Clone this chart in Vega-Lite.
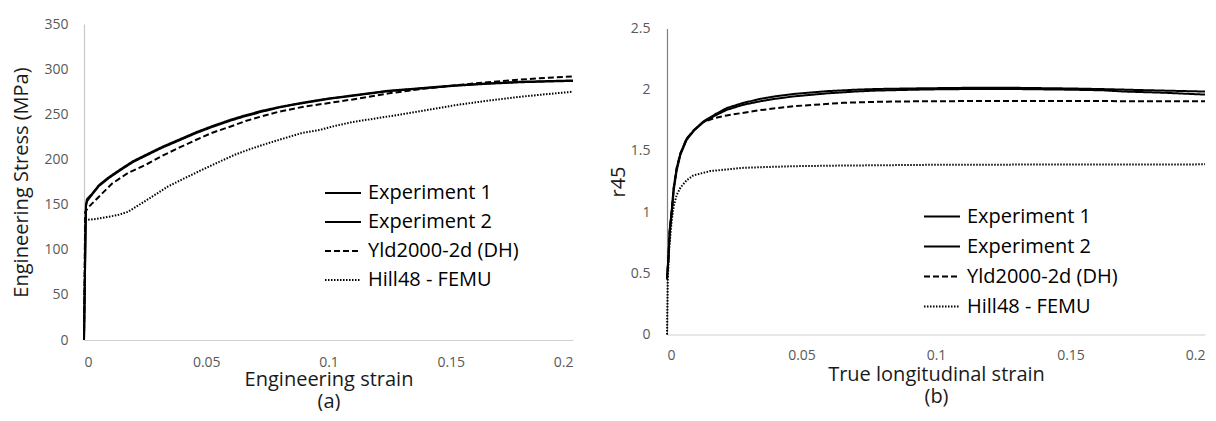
{
  "$schema": "https://vega.github.io/schema/vega-lite/v6.json",
  "background": "white",
  "padding": {"left": 11, "top": 17, "right": 0, "bottom": 0},
  "center": true,
  "spacing": 31,
  "config": {
    "view": {"stroke": null},
    "font": "Open Sans",
    "axis": {"grid": false, "ticks": false, "labelColor": "#595959", "labelFontSize": 14, "titleColor": "#1a1a1a", "titleFontSize": 20, "titleFontWeight": "normal", "domainColor": "#d0d0d0", "domainWidth": 1.2},
    "legend": {"symbolType": "stroke", "symbolSize": 1296, "symbolStrokeWidth": 2, "symbolStrokeColor": "black", "labelFontSize": 20, "labelColor": "#000000", "labelOffset": 6, "padding": 0, "rowPadding": 0, "labelLimit": 400}
  },
  "datasets": {
    "stress": [
      {"series": "Experiment 1", "x": 0, "y": 0}, {"series": "Experiment 1", "x": 0.0008, "y": 150}, {"series": "Experiment 1", "x": 0.0012, "y": 156}, {"series": "Experiment 1", "x": 0.003, "y": 161}, {"series": "Experiment 1", "x": 0.0061, "y": 171.5}, {"series": "Experiment 1", "x": 0.01, "y": 180}, {"series": "Experiment 1", "x": 0.0143, "y": 188}, {"series": "Experiment 1", "x": 0.02, "y": 198}, {"series": "Experiment 1", "x": 0.0252, "y": 205}, {"series": "Experiment 1", "x": 0.032, "y": 214}, {"series": "Experiment 1", "x": 0.0389, "y": 222}, {"series": "Experiment 1", "x": 0.0457, "y": 230}, {"series": "Experiment 1", "x": 0.0525, "y": 237}, {"series": "Experiment 1", "x": 0.06, "y": 244}, {"series": "Experiment 1", "x": 0.0661, "y": 249}, {"series": "Experiment 1", "x": 0.073, "y": 254}, {"series": "Experiment 1", "x": 0.0798, "y": 258}, {"series": "Experiment 1", "x": 0.0866, "y": 261.5}, {"series": "Experiment 1", "x": 0.0934, "y": 264.7}, {"series": "Experiment 1", "x": 0.1, "y": 267.5}, {"series": "Experiment 1", "x": 0.11, "y": 271}, {"series": "Experiment 1", "x": 0.1242, "y": 276}, {"series": "Experiment 1", "x": 0.1378, "y": 279}, {"series": "Experiment 1", "x": 0.1515, "y": 282}, {"series": "Experiment 1", "x": 0.165, "y": 284.2}, {"series": "Experiment 1", "x": 0.1787, "y": 286}, {"series": "Experiment 1", "x": 0.19, "y": 286.8}, {"series": "Experiment 1", "x": 0.2, "y": 287.5},
      {"series": "Experiment 2", "x": 0, "y": 0}, {"series": "Experiment 2", "x": 0.0008, "y": 148}, {"series": "Experiment 2", "x": 0.0013, "y": 154}, {"series": "Experiment 2", "x": 0.003, "y": 160}, {"series": "Experiment 2", "x": 0.0061, "y": 170.5}, {"series": "Experiment 2", "x": 0.01, "y": 179}, {"series": "Experiment 2", "x": 0.0143, "y": 187}, {"series": "Experiment 2", "x": 0.02, "y": 197}, {"series": "Experiment 2", "x": 0.0252, "y": 204}, {"series": "Experiment 2", "x": 0.032, "y": 213}, {"series": "Experiment 2", "x": 0.0389, "y": 221}, {"series": "Experiment 2", "x": 0.0457, "y": 229}, {"series": "Experiment 2", "x": 0.0525, "y": 236}, {"series": "Experiment 2", "x": 0.06, "y": 243}, {"series": "Experiment 2", "x": 0.0661, "y": 248}, {"series": "Experiment 2", "x": 0.073, "y": 253}, {"series": "Experiment 2", "x": 0.0798, "y": 257.5}, {"series": "Experiment 2", "x": 0.0866, "y": 261}, {"series": "Experiment 2", "x": 0.0934, "y": 264}, {"series": "Experiment 2", "x": 0.1, "y": 267}, {"series": "Experiment 2", "x": 0.11, "y": 270.5}, {"series": "Experiment 2", "x": 0.1242, "y": 275.5}, {"series": "Experiment 2", "x": 0.1378, "y": 278.5}, {"series": "Experiment 2", "x": 0.1515, "y": 281.5}, {"series": "Experiment 2", "x": 0.165, "y": 283.8}, {"series": "Experiment 2", "x": 0.1787, "y": 285.5}, {"series": "Experiment 2", "x": 0.19, "y": 286.3}, {"series": "Experiment 2", "x": 0.2, "y": 287},
      {"series": "Yld2000-2d (DH)", "x": 0, "y": 0}, {"series": "Yld2000-2d (DH)", "x": 0.0005, "y": 142}, {"series": "Yld2000-2d (DH)", "x": 0.002, "y": 147.6}, {"series": "Yld2000-2d (DH)", "x": 0.0061, "y": 158.7}, {"series": "Yld2000-2d (DH)", "x": 0.0116, "y": 173.5}, {"series": "Yld2000-2d (DH)", "x": 0.018, "y": 185}, {"series": "Yld2000-2d (DH)", "x": 0.0252, "y": 194}, {"series": "Yld2000-2d (DH)", "x": 0.032, "y": 204}, {"series": "Yld2000-2d (DH)", "x": 0.0389, "y": 213}, {"series": "Yld2000-2d (DH)", "x": 0.0457, "y": 221.5}, {"series": "Yld2000-2d (DH)", "x": 0.0525, "y": 229.6}, {"series": "Yld2000-2d (DH)", "x": 0.06, "y": 236.5}, {"series": "Yld2000-2d (DH)", "x": 0.0661, "y": 242.5}, {"series": "Yld2000-2d (DH)", "x": 0.073, "y": 248}, {"series": "Yld2000-2d (DH)", "x": 0.0798, "y": 252.9}, {"series": "Yld2000-2d (DH)", "x": 0.09, "y": 258.5}, {"series": "Yld2000-2d (DH)", "x": 0.1002, "y": 262.5}, {"series": "Yld2000-2d (DH)", "x": 0.11, "y": 266.5}, {"series": "Yld2000-2d (DH)", "x": 0.1242, "y": 273}, {"series": "Yld2000-2d (DH)", "x": 0.1378, "y": 278}, {"series": "Yld2000-2d (DH)", "x": 0.1515, "y": 282}, {"series": "Yld2000-2d (DH)", "x": 0.165, "y": 285.5}, {"series": "Yld2000-2d (DH)", "x": 0.1787, "y": 288.5}, {"series": "Yld2000-2d (DH)", "x": 0.19, "y": 290.5}, {"series": "Yld2000-2d (DH)", "x": 0.2, "y": 292},
      {"series": "Hill48 - FEMU", "x": 0, "y": 0}, {"series": "Hill48 - FEMU", "x": 0.0005, "y": 133}, {"series": "Hill48 - FEMU", "x": 0.005, "y": 134}, {"series": "Hill48 - FEMU", "x": 0.0138, "y": 138.4}, {"series": "Hill48 - FEMU", "x": 0.018, "y": 142}, {"series": "Hill48 - FEMU", "x": 0.0233, "y": 151}, {"series": "Hill48 - FEMU", "x": 0.028, "y": 159}, {"series": "Hill48 - FEMU", "x": 0.0342, "y": 169.8}, {"series": "Hill48 - FEMU", "x": 0.041, "y": 179}, {"series": "Hill48 - FEMU", "x": 0.0479, "y": 188}, {"series": "Hill48 - FEMU", "x": 0.055, "y": 197}, {"series": "Hill48 - FEMU", "x": 0.0615, "y": 205}, {"series": "Hill48 - FEMU", "x": 0.068, "y": 211.5}, {"series": "Hill48 - FEMU", "x": 0.0751, "y": 217.8}, {"series": "Hill48 - FEMU", "x": 0.082, "y": 223.5}, {"series": "Hill48 - FEMU", "x": 0.0888, "y": 229}, {"series": "Hill48 - FEMU", "x": 0.0969, "y": 233}, {"series": "Hill48 - FEMU", "x": 0.1024, "y": 237}, {"series": "Hill48 - FEMU", "x": 0.11, "y": 241.5}, {"series": "Hill48 - FEMU", "x": 0.1242, "y": 247.5}, {"series": "Hill48 - FEMU", "x": 0.1378, "y": 253.5}, {"series": "Hill48 - FEMU", "x": 0.1515, "y": 260}, {"series": "Hill48 - FEMU", "x": 0.165, "y": 265}, {"series": "Hill48 - FEMU", "x": 0.1787, "y": 269.5}, {"series": "Hill48 - FEMU", "x": 0.19, "y": 272.5}, {"series": "Hill48 - FEMU", "x": 0.2, "y": 275}
    ],
    "r45": [
      {"series": "Experiment 1", "x": 0, "y": 0.45}, {"series": "Experiment 1", "x": 0.0005, "y": 0.62}, {"series": "Experiment 1", "x": 0.001, "y": 0.85}, {"series": "Experiment 1", "x": 0.0017, "y": 1.0}, {"series": "Experiment 1", "x": 0.0025, "y": 1.2}, {"series": "Experiment 1", "x": 0.0036, "y": 1.36}, {"series": "Experiment 1", "x": 0.005, "y": 1.48}, {"series": "Experiment 1", "x": 0.0073, "y": 1.6}, {"series": "Experiment 1", "x": 0.01, "y": 1.67}, {"series": "Experiment 1", "x": 0.0135, "y": 1.74}, {"series": "Experiment 1", "x": 0.018, "y": 1.8}, {"series": "Experiment 1", "x": 0.0222, "y": 1.85}, {"series": "Experiment 1", "x": 0.028, "y": 1.89}, {"series": "Experiment 1", "x": 0.0346, "y": 1.925}, {"series": "Experiment 1", "x": 0.04, "y": 1.945}, {"series": "Experiment 1", "x": 0.047, "y": 1.965}, {"series": "Experiment 1", "x": 0.0594, "y": 1.988}, {"series": "Experiment 1", "x": 0.07, "y": 2.0}, {"series": "Experiment 1", "x": 0.078, "y": 2.006}, {"series": "Experiment 1", "x": 0.0965, "y": 2.012}, {"series": "Experiment 1", "x": 0.11, "y": 2.015}, {"series": "Experiment 1", "x": 0.131, "y": 2.015}, {"series": "Experiment 1", "x": 0.15, "y": 2.01}, {"series": "Experiment 1", "x": 0.162, "y": 2.005}, {"series": "Experiment 1", "x": 0.18, "y": 1.995}, {"series": "Experiment 1", "x": 0.2, "y": 1.985},
      {"series": "Experiment 2", "x": 0, "y": 0.47}, {"series": "Experiment 2", "x": 0.0005, "y": 0.6}, {"series": "Experiment 2", "x": 0.001, "y": 0.83}, {"series": "Experiment 2", "x": 0.0017, "y": 0.98}, {"series": "Experiment 2", "x": 0.0025, "y": 1.18}, {"series": "Experiment 2", "x": 0.0036, "y": 1.34}, {"series": "Experiment 2", "x": 0.005, "y": 1.47}, {"series": "Experiment 2", "x": 0.0073, "y": 1.59}, {"series": "Experiment 2", "x": 0.01, "y": 1.665}, {"series": "Experiment 2", "x": 0.0135, "y": 1.735}, {"series": "Experiment 2", "x": 0.018, "y": 1.79}, {"series": "Experiment 2", "x": 0.0222, "y": 1.835}, {"series": "Experiment 2", "x": 0.028, "y": 1.875}, {"series": "Experiment 2", "x": 0.0346, "y": 1.905}, {"series": "Experiment 2", "x": 0.04, "y": 1.925}, {"series": "Experiment 2", "x": 0.047, "y": 1.945}, {"series": "Experiment 2", "x": 0.0594, "y": 1.97}, {"series": "Experiment 2", "x": 0.07, "y": 1.985}, {"series": "Experiment 2", "x": 0.078, "y": 1.993}, {"series": "Experiment 2", "x": 0.0965, "y": 2.002}, {"series": "Experiment 2", "x": 0.11, "y": 2.005}, {"series": "Experiment 2", "x": 0.131, "y": 2.005}, {"series": "Experiment 2", "x": 0.15, "y": 2.0}, {"series": "Experiment 2", "x": 0.162, "y": 1.995}, {"series": "Experiment 2", "x": 0.17, "y": 1.985}, {"series": "Experiment 2", "x": 0.185, "y": 1.975}, {"series": "Experiment 2", "x": 0.2, "y": 1.96},
      {"series": "Yld2000-2d (DH)", "x": 0, "y": 0.45}, {"series": "Yld2000-2d (DH)", "x": 0.0005, "y": 0.62}, {"series": "Yld2000-2d (DH)", "x": 0.001, "y": 0.85}, {"series": "Yld2000-2d (DH)", "x": 0.0017, "y": 1.0}, {"series": "Yld2000-2d (DH)", "x": 0.0025, "y": 1.2}, {"series": "Yld2000-2d (DH)", "x": 0.0036, "y": 1.36}, {"series": "Yld2000-2d (DH)", "x": 0.005, "y": 1.48}, {"series": "Yld2000-2d (DH)", "x": 0.0073, "y": 1.6}, {"series": "Yld2000-2d (DH)", "x": 0.01, "y": 1.67}, {"series": "Yld2000-2d (DH)", "x": 0.0135, "y": 1.735}, {"series": "Yld2000-2d (DH)", "x": 0.018, "y": 1.77}, {"series": "Yld2000-2d (DH)", "x": 0.0222, "y": 1.79}, {"series": "Yld2000-2d (DH)", "x": 0.0346, "y": 1.833}, {"series": "Yld2000-2d (DH)", "x": 0.047, "y": 1.865}, {"series": "Yld2000-2d (DH)", "x": 0.0655, "y": 1.893}, {"series": "Yld2000-2d (DH)", "x": 0.08, "y": 1.902}, {"series": "Yld2000-2d (DH)", "x": 0.0965, "y": 1.906}, {"series": "Yld2000-2d (DH)", "x": 0.13, "y": 1.908}, {"series": "Yld2000-2d (DH)", "x": 0.16, "y": 1.907}, {"series": "Yld2000-2d (DH)", "x": 0.2, "y": 1.905},
      {"series": "Hill48 - FEMU", "x": 0, "y": 0}, {"series": "Hill48 - FEMU", "x": 0.0003, "y": 0.45}, {"series": "Hill48 - FEMU", "x": 0.0008, "y": 0.7}, {"series": "Hill48 - FEMU", "x": 0.0017, "y": 0.92}, {"series": "Hill48 - FEMU", "x": 0.0025, "y": 1.05}, {"series": "Hill48 - FEMU", "x": 0.0036, "y": 1.14}, {"series": "Hill48 - FEMU", "x": 0.005, "y": 1.2}, {"series": "Hill48 - FEMU", "x": 0.0073, "y": 1.26}, {"series": "Hill48 - FEMU", "x": 0.0098, "y": 1.3}, {"series": "Hill48 - FEMU", "x": 0.016, "y": 1.335}, {"series": "Hill48 - FEMU", "x": 0.0284, "y": 1.362}, {"series": "Hill48 - FEMU", "x": 0.047, "y": 1.375}, {"series": "Hill48 - FEMU", "x": 0.064, "y": 1.38}, {"series": "Hill48 - FEMU", "x": 0.0965, "y": 1.386}, {"series": "Hill48 - FEMU", "x": 0.13, "y": 1.388}, {"series": "Hill48 - FEMU", "x": 0.2, "y": 1.39}
    ]
  },
  "hconcat": [
    {
      "width": 489,
      "height": 316,
      "data": {"name": "stress"},
      "mark": {"type": "line", "color": "black", "strokeWidth": 2},
      "encoding": {
        "x": {"field": "x", "type": "quantitative", "scale": {"domain": [0, 0.2], "nice": false}, "axis": {"values": [0, 0.05, 0.1, 0.15, 0.2], "format": "~g", "labelPadding": 15, "titlePadding": 0, "title": ["Engineering strain", "(a)"], "titleLineHeight": 22}},
        "y": {"field": "y", "type": "quantitative", "scale": {"domain": [0, 350], "nice": false}, "axis": {"values": [0, 50, 100, 150, 200, 250, 300, 350], "labelPadding": 16, "titlePadding": 12, "title": "Engineering Stress (MPa)", "domainColor": "#c8c8c8"}},
        "strokeDash": {"field": "series", "type": "nominal", "scale": {"domain": ["Experiment 1", "Experiment 2", "Yld2000-2d (DH)", "Hill48 - FEMU"], "range": [[1, 0], [1, 0], [6, 3], [1.5, 1.5]]}, "legend": {"title": null, "orient": "none", "legendX": 240, "legendY": 150}}
      }
    },
    {
      "width": 538,
      "height": 306,
      "data": {"name": "r45"},
      "mark": {"type": "line", "color": "black", "strokeWidth": 2},
      "encoding": {
        "x": {"field": "x", "type": "quantitative", "scale": {"domain": [0, 0.2], "nice": false}, "axis": {"values": [0, 0.05, 0.1, 0.15, 0.2], "format": "~g", "labelPadding": 14, "titlePadding": 2, "title": ["True longitudinal strain", "(b)"], "titleLineHeight": 22}},
        "y": {"field": "y", "type": "quantitative", "scale": {"domain": [0, 2.5], "nice": false}, "axis": {"values": [0, 0.5, 1, 1.5, 2, 2.5], "format": "~g", "labelPadding": 17, "titlePadding": 2, "title": "r45", "domainColor": "#808080"}},
        "strokeDash": {"field": "series", "type": "nominal", "scale": {"domain": ["Experiment 1", "Experiment 2", "Yld2000-2d (DH)", "Hill48 - FEMU"], "range": [[1, 0], [1, 0], [6, 3], [1.5, 1.5]]}, "legend": {"title": null, "orient": "none", "legendX": 256, "legendY": 169, "rowPadding": 1}}
      }
    }
  ],
  "resolve": {"scale": {"strokeDash": "independent"}, "legend": {"strokeDash": "independent"}}
}
